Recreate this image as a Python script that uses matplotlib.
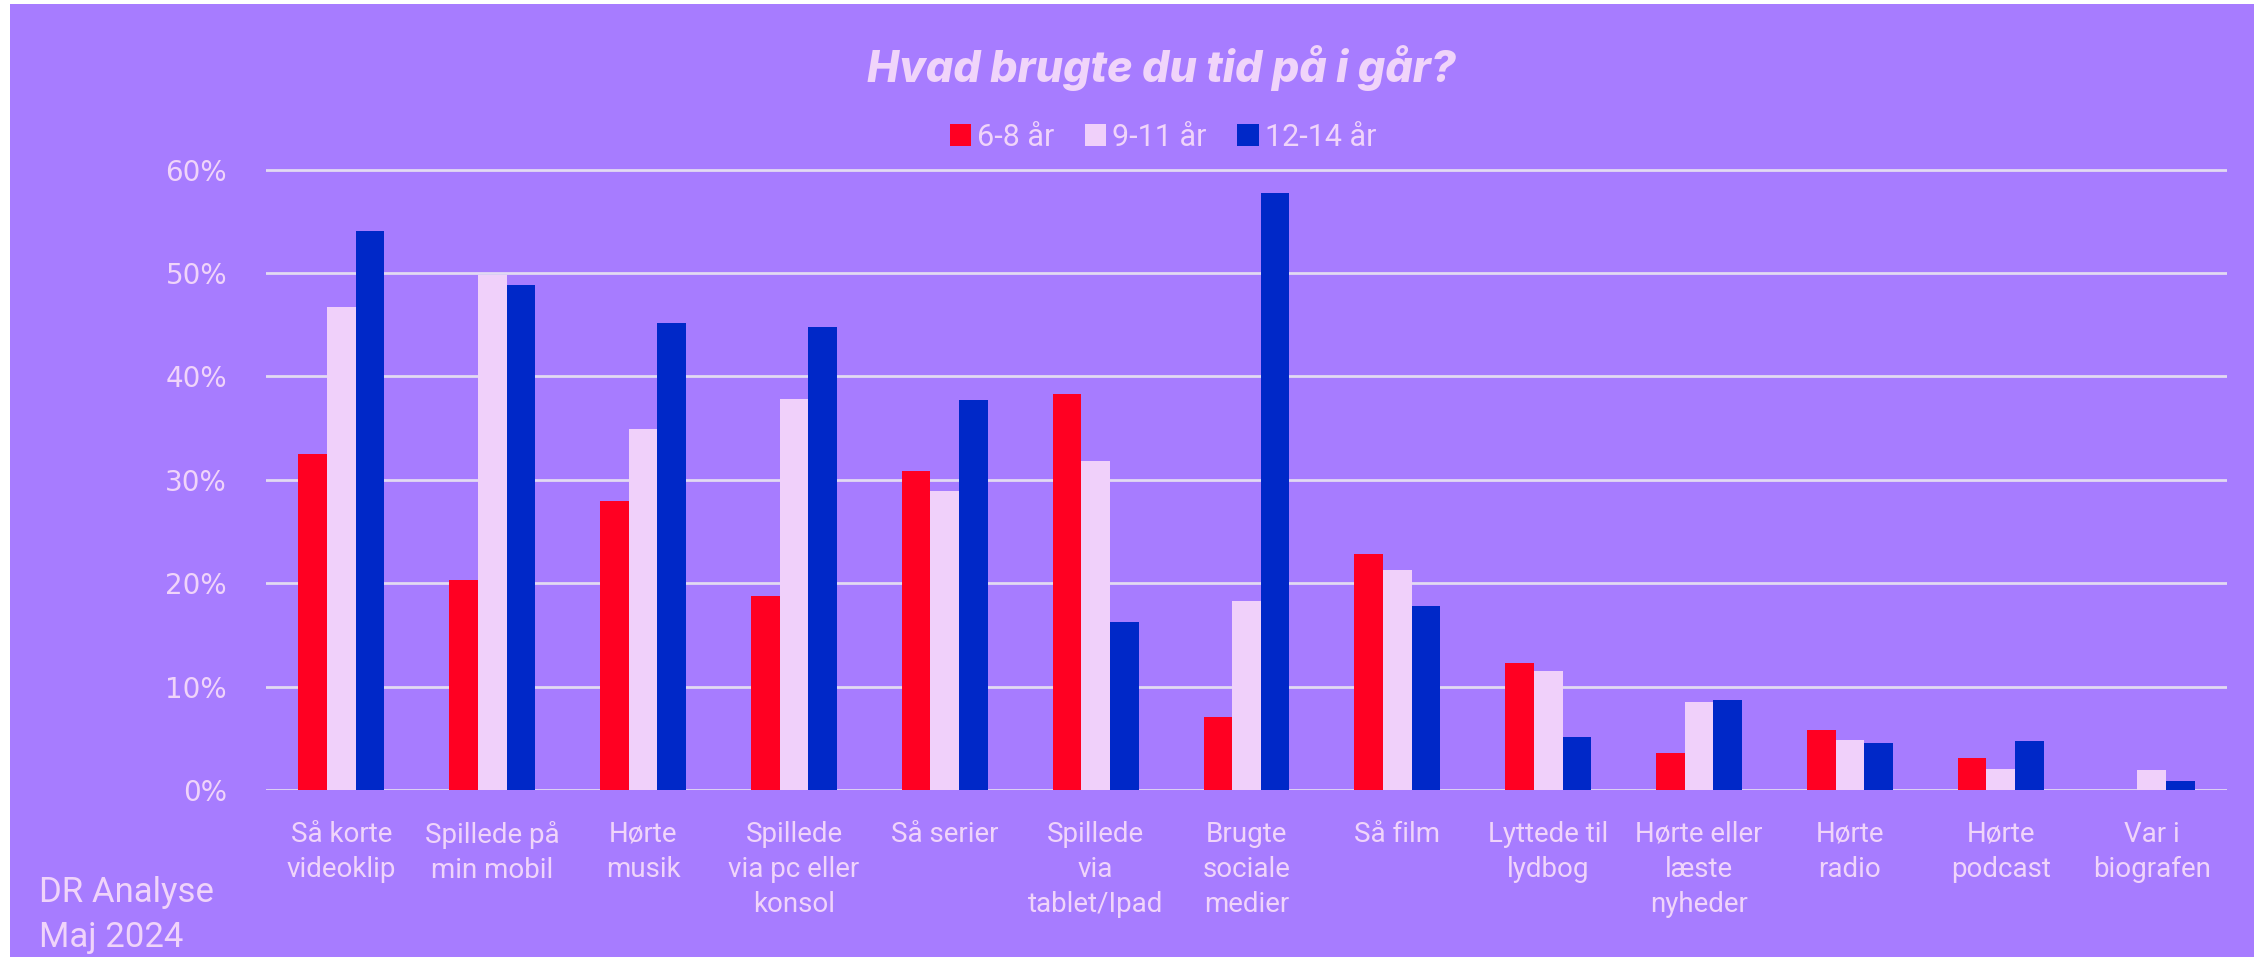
import matplotlib
matplotlib.use("Agg")
import matplotlib.pyplot as plt
from matplotlib.patches import Rectangle, Patch
import numpy as np

categories = ["Så korte\nvideoklip", "Spillede på\nmin mobil", "Hørte\nmusik",
              "Spillede\nvia pc eller\nkonsol", "Så serier", "Spillede\nvia\ntablet/Ipad",
              "Brugte\nsociale\nmedier", "Så film", "Lyttede til\nlydbog",
              "Hørte eller\nlæste\nnyheder", "Hørte\nradio", "Hørte\npodcast", "Var i\nbiografen"]
age_6_8 = [32.5, 20.3, 27.9, 18.8, 30.8, 38.3, 7.1, 22.8, 12.3, 3.6, 5.8, 3.1, 0.0]
age_9_11 = [46.7, 49.8, 34.9, 37.8, 28.9, 31.8, 18.3, 21.3, 11.5, 8.5, 4.8, 2.0, 1.9]
age_12_14 = [54.1, 48.8, 45.2, 44.8, 37.7, 16.2, 57.7, 17.8, 5.1, 8.7, 4.5, 4.7, 0.9]
series_names = ["6-8 år", "9-11 år", "12-14 år"]
yticks = [0, 10, 20, 30, 40, 50, 60]

bg = "#a77cff"
txt = "#f0d4fa"
colors = ["#ff0022", "#f0d0fa", "#0028c8"]

fig = plt.figure(figsize=(22.54, 9.57), dpi=100)
fig.patch.set_facecolor(bg)
# thin white border on the left and top like the screenshot
fig.patches.append(Rectangle((0, 0), 10 / 2254, 1, transform=fig.transFigure,
                             facecolor="white", edgecolor="none", zorder=-5))
fig.patches.append(Rectangle((0, 1 - 4 / 957), 1, 4 / 957, transform=fig.transFigure,
                             facecolor="white", edgecolor="none", zorder=-5))

ax = fig.add_axes([266 / 2254, 1 - 790 / 957, (2227 - 266) / 2254, (790 - 159.2) / 957])
ax.set_facecolor("none")

x = np.arange(len(categories))
w = 0.19
for i, vals in enumerate([age_6_8, age_9_11, age_12_14]):
    ax.bar(x + (i - 1) * w, vals, width=w, color=colors[i], zorder=3, label=series_names[i])

ax.set_xlim(-0.5, len(categories) - 0.5)
ax.set_ylim(0, 61)
ax.set_yticks(yticks)
ax.set_yticklabels([f"{t}%" for t in yticks], fontsize=20, color=txt, family="DejaVu Sans")
ax.yaxis.grid(True, color="#e2daf2", linewidth=2)
ax.set_axisbelow(True)
ax.tick_params(axis="y", length=0, pad=28)
ax.set_xticks(x)
ax.set_xticklabels(categories, fontsize=20, color=txt, family="Roboto", linespacing=1.4)
ax.tick_params(axis="x", length=0, pad=22)
for s in ax.spines.values():
    s.set_visible(False)

fig.text(1161 / 2254, 1 - 68 / 957, "Hvad brugte du tid på i går?", ha="center", va="center",
         fontsize=31, fontweight="heavy", style="italic", color=txt, family="Inter")

handles = [Patch(facecolor=c) for c in colors]
leg = fig.legend(handles, series_names, loc="center", bbox_to_anchor=(1163 / 2254, 1 - 137 / 957),
                 ncol=3, frameon=False, handlelength=0.7, handleheight=0.7,
                 handletextpad=0.2, columnspacing=1.0, prop={"family": "Roboto", "size": 22})
for t in leg.get_texts():
    t.set_color(txt)

fig.text(39 / 2254, 1 - 915 / 957, "DR Analyse\nMaj 2024", ha="left", va="center",
         fontsize=25, color=txt, family="Roboto", linespacing=1.45)

fig.savefig("out.png", dpi=100, facecolor=bg)
